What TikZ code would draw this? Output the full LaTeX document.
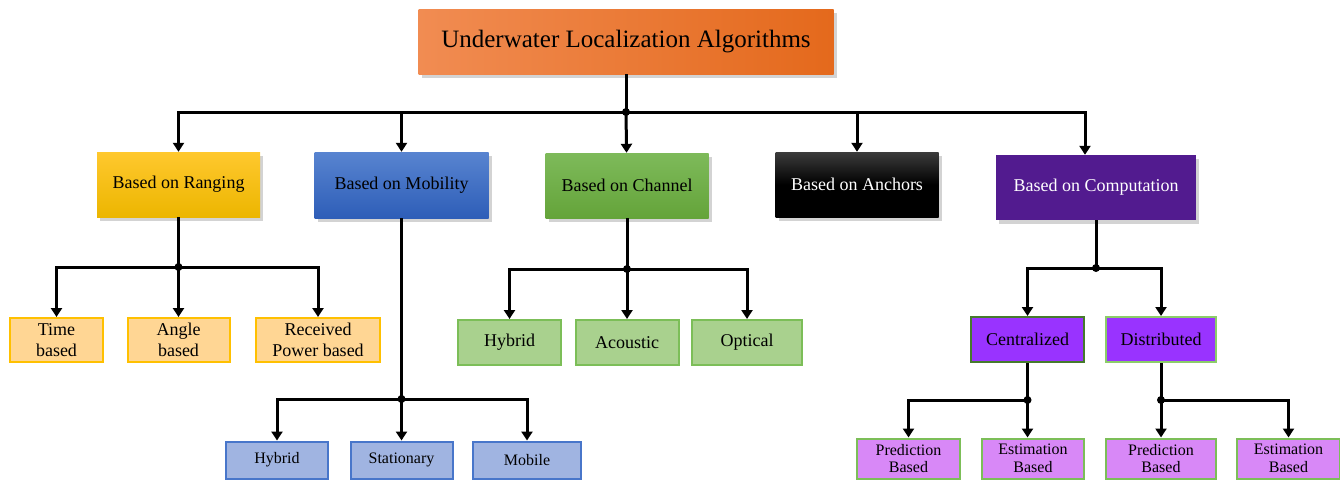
\documentclass[tikz,border=0pt]{standalone}
\usepackage{fontspec}
\setmainfont{Liberation Serif}
\usepackage{tikz}
\usetikzlibrary{arrows.meta}
\usetikzlibrary{shadows}
\definecolor{orgL}{RGB}{241,140,82}
\definecolor{orgR}{RGB}{228,105,28}
\definecolor{rngT}{RGB}{255,200,46}
\definecolor{rngB}{RGB}{236,182,0}
\definecolor{mobT}{RGB}{88,132,208}
\definecolor{mobB}{RGB}{46,94,184}
\definecolor{chnT}{RGB}{126,186,90}
\definecolor{chnB}{RGB}{100,164,58}
\definecolor{ancT}{RGB}{60,60,60}
\definecolor{cmpC}{RGB}{82,27,143}
\definecolor{rngLeaf}{RGB}{255,214,148}
\definecolor{rngLine}{RGB}{255,192,0}
\definecolor{mobLeaf}{RGB}{160,180,225}
\definecolor{mobLine}{RGB}{72,118,202}
\definecolor{chnLeaf}{RGB}{169,209,142}
\definecolor{chnLine}{RGB}{124,190,88}
\definecolor{cmpMid}{RGB}{153,51,255}
\definecolor{cmpLeaf}{RGB}{216,136,247}
\definecolor{grnDark}{RGB}{70,122,44}
\definecolor{grnLight}{RGB}{140,205,105}
\tikzset{cat node/.style={rectangle,inner sep=0pt,minimum height=65pt,
    drop shadow={shadow xshift=3pt,shadow yshift=-4pt,opacity=0.35},
    font=\fontsize{18}{21.6}\selectfont},
  leaf node/.style={rectangle,draw,line width=2pt,inner sep=0pt,align=center,
    font=\fontsize{18}{21}\selectfont},
  small leaf/.style={leaf node,font=\fontsize{16}{17.6}\selectfont},
  link/.style={line width=3pt},
  arr/.style={line width=3pt,-{Triangle[width=11pt,length=9pt]}},
  dot/.style={circle,fill=black,inner sep=0pt,minimum size=8pt}}

\begin{document}
\begin{tikzpicture}[x=1pt,y=-1pt]
	\useasboundingbox (0,0) rectangle (1340,479);
	% root
	\node[cat node, minimum width=415pt, left color=orgL, right color=orgR,
	      font=\fontsize{25}{30}\selectfont] (root) at (626,41.5) {Underwater Localization Algorithms};
	% second level
	\node[cat node, minimum width=163pt, top color=rngT, bottom color=rngB] (rng) at (178.5,184.5) {Based on Ranging};
	\node[cat node, minimum width=174pt, minimum height=66pt, top color=mobT, bottom color=mobB] (mob) at (401.5,185) {Based on Mobility};
	\node[cat node, minimum width=163pt, top color=chnT, bottom color=chnB] (chn) at (627,185.5) {Based on Channel};
	\node[cat node, minimum width=163pt, top color=ancT, bottom color=black, middle color=black, text=white] (anc) at (857,184.5) {Based on Anchors};
	\node[cat node, minimum width=200pt, fill=cmpC, text=white] (cmp) at (1096,187.5) {Based on Computation};

	% ranging leaves
	\node[leaf node, minimum width=93pt, minimum height=44pt, fill=rngLeaf, draw=rngLine] (time) at (56.5,340) {Time\\based};
	\node[leaf node, minimum width=102pt, minimum height=44pt, fill=rngLeaf, draw=rngLine] (angle) at (178.5,340) {Angle\\based};
	\node[leaf node, minimum width=124pt, minimum height=44pt, fill=rngLeaf, draw=rngLine] (power) at (318,340) {Received\\Power based};

	% mobility leaves
	\node[small leaf, minimum width=102pt, minimum height=37pt, fill=mobLeaf, draw=mobLine] (mhyb) at (277,460) {Hybrid};
	\node[small leaf, minimum width=102pt, minimum height=37pt, fill=mobLeaf, draw=mobLine] (stat) at (401.5,460) {Stationary};
	\node[small leaf, minimum width=108pt, minimum height=37pt, fill=mobLeaf, draw=mobLine] (mobile) at (527,460) {Mobile};

	% channel leaves
	\node[leaf node, minimum width=103pt, minimum height=45pt, fill=chnLeaf, draw=chnLine] (chyb) at (509.5,342.5) {Hybrid};
	\node[leaf node, minimum width=103pt, minimum height=45pt, fill=chnLeaf, draw=chnLine] (acou) at (627,342.5) {Acoustic};
	\node[leaf node, minimum width=110pt, minimum height=45pt, fill=chnLeaf, draw=chnLine] (opt) at (747,342.5) {Optical};

	% computation
	\node[leaf node, minimum width=113pt, minimum height=45pt, fill=cmpMid, draw=grnDark] (cen) at (1027.5,339.5) {Centralized};
	\node[leaf node, minimum width=110pt, minimum height=45pt, fill=cmpMid, draw=grnLight] (dis) at (1161,339.5) {Distributed};
	\node[small leaf, minimum width=103pt, minimum height=40pt, fill=cmpLeaf, draw=chnLine] (pre1) at (908.5,458.5) {Prediction\\Based};
	\node[small leaf, minimum width=102pt, minimum height=40pt, fill=cmpLeaf, draw=chnLine] (est1) at (1033,458.5) {Estimation\\Based};
	\node[small leaf, minimum width=110pt, minimum height=40pt, fill=cmpLeaf, draw=chnLine] (pre2) at (1161,458.5) {Prediction\\Based};
	\node[small leaf, minimum width=103pt, minimum height=40pt, fill=cmpLeaf, draw=chnLine] (est2) at (1288.5,458.5) {Estimation\\Based};

	% junctions
	\node[dot] (jtop) at (626,112) {};
	\node[dot] (jrng) at (178.5,267) {};
	\node[dot] (jmob) at (401.5,399) {};
	\node[dot] (jchn) at (627,269) {};
	\node[dot] (jcmp) at (1096,268) {};
	\node[dot] (jcen) at (1027.5,400) {};
	\node[dot] (jdis) at (1161,400) {};

	% connectors
	\draw[link] (root) -- (jtop.center);
	\draw[arr] (jtop.center) -| (rng);
	\draw[arr] (jtop.center) -| (mob);
	\draw[arr] (jtop.center) -- (chn);
	\draw[arr] (jtop.center) -| (anc);
	\draw[arr] (jtop.center) -| ([xshift=-11pt]cmp.north);

	\draw[link] (rng) -- (jrng.center);
	\draw[arr] (jrng.center) -| (time);
	\draw[arr] (jrng.center) -- (angle);
	\draw[arr] (jrng.center) -| (power);

	\draw[link] (mob) -- (jmob.center);
	\draw[arr] (jmob.center) -| (mhyb);
	\draw[arr] (jmob.center) -- (stat);
	\draw[arr] (jmob.center) -| (mobile);

	\draw[link] (chn) -- (jchn.center);
	\draw[arr] (jchn.center) -| (chyb);
	\draw[arr] (jchn.center) -- (acou);
	\draw[arr] (jchn.center) -| (opt);

	\draw[link] (cmp) -- (jcmp.center);
	\draw[arr] (jcmp.center) -| (cen);
	\draw[arr] (jcmp.center) -| (dis);

	\draw[link] (cen) -- (jcen.center);
	\draw[arr] (jcen.center) -| (pre1);
	\draw[arr] (jcen.center) -- (jcen.center |- est1.north);
	\draw[link] (dis) -- (jdis.center);
	\draw[arr] (jdis.center) -- (pre2);
	\draw[arr] (jdis.center) -| (est2);
\end{tikzpicture}
\end{document}
